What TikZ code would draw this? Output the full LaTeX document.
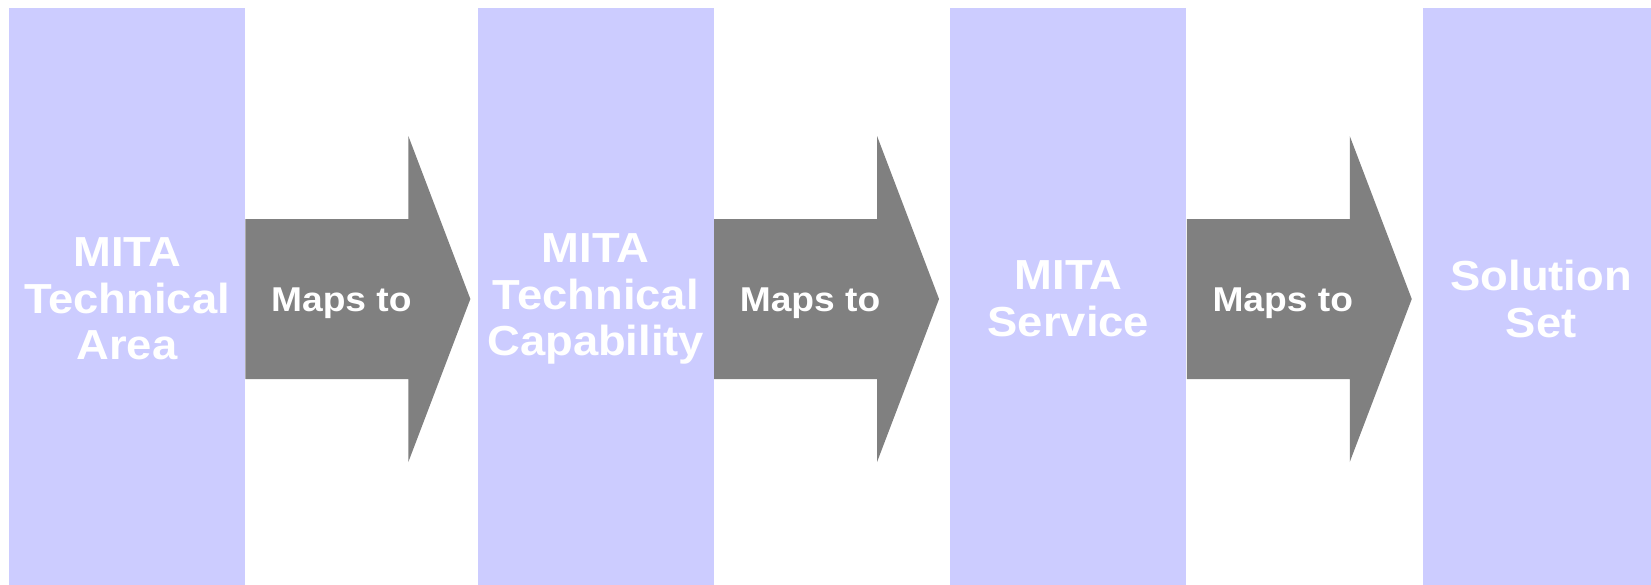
\documentclass[tikz,border=0pt]{standalone}
\usepackage{fontspec}
\setmainfont{Liberation Sans}[FakeStretch=1.08]
\usetikzlibrary{positioning}

\definecolor{mitablue}{HTML}{CCCCFF}
\definecolor{mapgray}{HTML}{808080}

\tikzset{
  mitabox/.style={rectangle,fill=mitablue,draw=none,minimum width=4.72cm,minimum height=11.64cm,inner sep=0pt,align=center,text=white,font=\fontsize{23.9}{26.6}\selectfont\bfseries},
  mapslabel/.style={text=white,font=\fontsize{19.6}{21}\selectfont\bfseries}
}

\begin{document}
\begin{tikzpicture}
\useasboundingbox (0,0) rectangle (33.02,11.68);
\clip (0,0) rectangle (33.02,11.68);
\node[mitabox] (tarea) at (2.54,5.70) {MITA\\Technical\\Area};
\node[mitabox,right=4.64cm of tarea] (tcap) {MITA\\Technical\\Capability};
\node[mitabox,right=4.72cm of tcap] (service) {MITA\\Service};
\node[mitabox,right=4.72cm of service] (solset) {Solution\\Set};

% block arrows between the boxes
\foreach \src in {tarea,tcap,service}{
  \fill[mapgray] (\src.east) ++(0,1.6) -- ++(3.26,0) -- ++(0,1.66) -- ++(1.24,-3.26) -- ++(-1.24,-3.26) -- ++(0,1.66) -- ++(-3.26,0) -- cycle;
  \node[mapslabel] (maps-\src) at ([xshift=1.92cm,yshift=-0.08cm]\src.east) {Maps to};
}
\end{tikzpicture}
\end{document}
